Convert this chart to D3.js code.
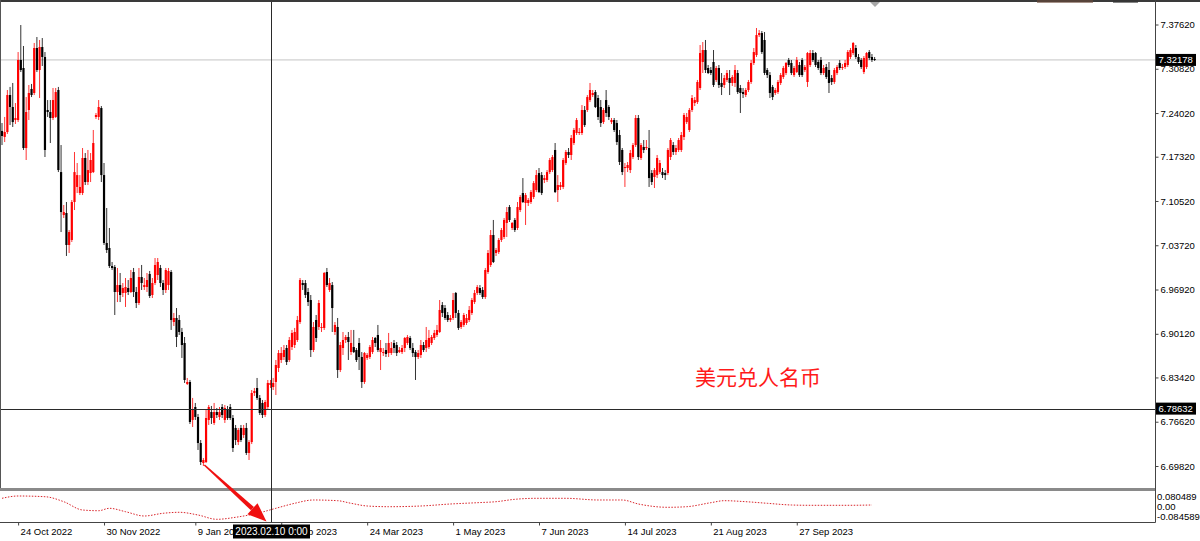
<!DOCTYPE html>
<html><head><meta charset="utf-8">
<script src="https://cdn.jsdelivr.net/npm/d3@7"></script>
<style>html,body{margin:0;padding:0;background:#fff;overflow:hidden}text{font-family:"Liberation Sans",Arial,sans-serif}</style>
</head><body>
<svg id="c" width="1200" height="541"></svg>
<script>
// ---------- DATA (USD/CNH daily bars, Sun–Fri sessions, first bar 2022-10-17) ----------
const firstBarDate = "2022-10-17";
const open = [
7.2127,7.2035,7.2111,7.2679,7.2495,7.2295,7.2295,7.3217,7.3094,7.1865,
7.2449,7.2772,7.2710,7.3401,7.3063,7.3416,7.3263,7.2449,7.2418,7.2326,
7.2342,7.2756,7.1496,7.0836,7.0867,7.0376,7.0453,7.1036,7.1267,7.1174,
7.1174,7.1712,7.1343,7.1481,7.1496,7.2342,7.2342,7.2479,7.1450,7.0407,
7.0330,7.0053,7.0038,6.9654,6.9761,6.9639,6.9639,6.9715,6.9654,6.9961,
6.9654,6.9485,6.9884,6.9731,6.9731,6.9931,6.9608,6.9792,6.9915,7.0023,
6.9792,6.9685,6.9761,6.9961,6.9193,6.9255,6.9224,6.9040,6.8871,6.8242,
6.8272,6.7689,6.7888,6.7735,6.7335,6.7028,6.7043,6.7689,6.7811,6.7643,
6.7811,6.7735,6.7888,6.7689,6.7842,6.7888,6.7719,6.7566,6.7350,6.7566,
6.7458,6.7566,6.7182,6.7350,6.8103,6.8180,6.8027,6.7950,6.7765,6.7888,
6.8226,6.8195,6.8272,6.8487,6.8610,6.8656,6.8794,6.8610,6.8809,6.8840,
6.8917,6.9193,6.9792,6.9792,6.9654,6.9531,6.8763,6.9224,6.9117,6.9102,
6.9102,6.9961,6.9685,6.9761,6.9040,6.9117,6.8456,6.8794,6.8917,6.8963,
6.8732,6.8809,6.8763,6.8871,6.8656,6.8272,6.8641,6.8656,6.8732,6.8948,
6.8994,6.8732,6.8717,6.8763,6.8717,6.8717,6.8871,6.8840,6.8732,6.8732,
6.8794,6.8871,6.8948,6.8794,6.8732,6.8656,6.8687,6.8840,6.8794,6.8809,
6.8871,6.8948,6.8994,6.9040,6.9454,6.9408,6.9301,6.9224,6.9255,6.9639,
6.9332,6.9117,6.9148,6.9178,6.9224,6.9332,6.9500,6.9639,6.9715,6.9685,
6.9577,6.9961,7.0069,7.0529,7.0253,7.0268,7.0453,7.0499,7.0714,7.0959,
7.0637,7.0760,7.0637,7.0913,7.1174,7.1021,7.1021,7.1036,7.1113,7.1220,
7.1481,7.1450,7.1374,7.1374,7.1496,7.1527,7.1835,7.1220,7.1267,7.1267,
7.1635,7.1804,7.1758,7.1942,7.2096,7.2096,7.2096,7.2449,7.2449,7.2602,
7.2679,7.2725,7.2633,7.2495,7.2264,7.2602,7.2495,7.2264,7.2295,7.2249,
7.2065,7.1835,7.1558,7.1558,7.1527,7.1727,7.1911,7.2326,7.1712,7.1881,
7.1865,7.1865,7.1481,7.1420,7.1450,7.1496,7.1496,7.1481,7.1481,7.1727,
7.1911,7.1804,7.1835,7.1835,7.2035,7.2264,7.2142,7.2449,7.2556,7.2571,
7.2787,7.3186,7.3370,7.3094,7.3063,7.3186,7.2910,7.3094,7.2864,7.2833,
7.2910,7.2940,7.2864,7.2864,7.3017,7.2787,7.2725,7.2679,7.2756,7.2879,
7.3171,7.3293,7.3600,7.3631,7.3524,7.3063,7.2986,7.2803,7.2710,7.2725,
7.2864,7.2956,7.3017,7.3217,7.3171,7.2986,7.3032,7.3140,7.3217,7.3063,
7.2879,7.3140,7.3324,7.3324,7.3186,7.3217,7.3017,7.3109,7.3063,7.2940,
7.2879,7.3017,7.3171,7.3094,7.3109,7.3140,7.3263,7.3324,7.3401,7.3263,
7.3217,7.3032,7.3109,7.3339,7.3263,7.3232];
const high = [
7.2249,7.2342,7.2756,7.2803,7.2864,7.2556,7.3339,7.3754,7.3432,7.2648,
7.2833,7.2849,7.3478,7.3570,7.3524,7.3554,7.3339,7.2602,7.2602,7.2787,
7.2787,7.2803,7.1911,7.0990,7.1036,7.0606,7.1067,7.1804,7.1635,7.1450,
7.1865,7.1788,7.1835,7.1788,7.2142,7.2403,7.2602,7.2510,7.1635,7.0944,
7.0637,7.0115,7.0069,7.0023,6.9946,6.9792,6.9869,6.9838,6.9992,7.0023,
6.9731,7.0023,7.0069,6.9869,6.9946,6.9977,6.9869,7.0176,7.0176,7.0069,
6.9838,7.0023,7.0023,6.9992,6.9332,6.9408,6.9301,6.9102,6.8963,6.8334,
6.8303,6.8027,6.7950,6.7781,6.7381,6.7105,6.7842,6.7919,6.7904,6.7950,
6.7873,6.7888,6.7934,6.7919,6.7904,6.7934,6.7765,6.7612,6.7566,6.7612,
6.7612,6.7643,6.7381,6.8149,6.8180,6.8334,6.8072,6.7996,6.7996,6.8303,
6.8303,6.8334,6.8610,6.8763,6.8809,6.8840,6.8840,6.8963,6.9071,6.9102,
6.9286,6.9869,6.9838,6.9838,6.9715,6.9608,6.9193,6.9301,6.9531,6.9178,
6.9961,7.0023,6.9869,6.9807,6.9193,6.9255,6.8886,6.9040,6.8994,6.9040,
6.9071,6.9071,6.8794,6.8948,6.8732,6.8732,6.8717,6.8840,6.8963,6.8963,
6.9148,6.8917,6.8794,6.8871,6.9025,6.8886,6.8917,6.8886,6.8809,6.8840,
6.8963,6.8994,6.8979,6.8871,6.8763,6.8763,6.8917,6.8886,6.9117,6.9071,
6.8994,6.9071,6.9148,6.9531,6.9500,6.9454,6.9347,6.9301,6.9639,6.9654,
6.9378,6.9224,6.9332,6.9316,6.9439,6.9562,6.9685,6.9761,6.9761,6.9731,
7.0023,7.0299,7.0606,7.0760,7.0330,7.0483,7.0637,7.0790,7.0959,7.0990,
7.0729,7.0790,7.1036,7.1143,7.1404,7.1174,7.1097,7.1220,7.1358,7.1527,
7.1558,7.1496,7.1450,7.1527,7.1712,7.1758,7.1942,7.1450,7.1343,7.1712,
7.1835,7.1865,7.2065,7.2173,7.2326,7.2173,7.2525,7.2510,7.2679,7.2864,
7.2756,7.2756,7.2679,7.2602,7.2479,7.2756,7.2525,7.2326,7.2326,7.2295,
7.2142,7.1865,7.1635,7.1650,7.1835,7.1942,7.2372,7.2372,7.1942,7.1988,
7.1988,7.2142,7.1527,7.1558,7.1758,7.1681,7.1558,7.1527,7.1865,7.2019,
7.1957,7.1911,7.2019,7.2111,7.2403,7.2403,7.2479,7.2679,7.2648,7.2910,
7.3447,7.3493,7.3524,7.3140,7.3109,7.3370,7.3125,7.3140,7.3017,7.2986,
7.3063,7.3063,7.2986,7.3140,7.3063,7.2833,7.2787,7.2787,7.2910,7.3217,
7.3401,7.3708,7.3677,7.3662,7.3647,7.3094,7.3032,7.2833,7.2787,7.2910,
7.3017,7.3125,7.3186,7.3248,7.3217,7.3125,7.3263,7.3186,7.3248,7.3140,
7.3339,7.3370,7.3370,7.3339,7.3217,7.3263,7.3140,7.3156,7.3186,7.2986,
7.3094,7.3140,7.3217,7.3156,7.3217,7.3370,7.3401,7.3493,7.3447,7.3309,
7.3248,7.3278,7.3339,7.3370,7.3309,7.3263];
const low = [
7.1911,7.1957,7.2081,7.2218,7.2188,7.2234,7.2264,7.3032,7.1835,7.1681,
7.2295,7.2648,7.2679,7.3032,7.2633,7.3125,7.1727,7.2342,7.1942,7.2295,
7.2326,7.1496,7.0575,7.0790,7.0207,7.0253,7.0422,7.0913,7.1174,7.1143,
7.1143,7.1297,7.1297,7.1343,7.1481,7.2311,7.2295,7.1343,7.0376,7.0253,
7.0023,6.9992,6.9301,6.9500,6.9500,6.9577,6.9424,6.9608,6.9639,6.9577,
6.9408,6.9454,6.9685,6.9685,6.9654,6.9562,6.9562,6.9761,6.9838,6.9731,
6.9608,6.9639,6.9685,6.9071,6.9132,6.8809,6.8994,6.8641,6.8257,6.8226,
6.7627,6.7581,6.7689,6.7228,6.6997,6.6982,6.7028,6.7612,6.7627,6.7612,
6.7719,6.7689,6.7719,6.7643,6.7689,6.7689,6.7197,6.7304,6.7304,6.7350,
6.7412,6.7151,6.7074,6.7319,6.8057,6.7996,6.7765,6.7719,6.7735,6.7858,
6.8180,6.8149,6.8072,6.8425,6.8564,6.8610,6.8533,6.8579,6.8763,6.8794,
6.8886,6.9163,6.9685,6.9562,6.9439,6.8656,6.8732,6.8886,6.9071,6.9040,
6.9071,6.9731,6.9654,6.9040,6.8994,6.8334,6.8425,6.8687,6.8871,6.8610,
6.8687,6.8717,6.8579,6.8456,6.8180,6.8242,6.8610,6.8625,6.8702,6.8809,
6.8732,6.8456,6.8671,6.8656,6.8656,6.8687,6.8717,6.8671,6.8717,6.8702,
6.8732,6.8840,6.8763,6.8656,6.8303,6.8625,6.8641,6.8732,6.8732,6.8779,
6.8840,6.8917,6.8963,6.9025,6.9270,6.9224,6.9193,6.9193,6.9224,6.9255,
6.9071,6.9086,6.9117,6.9148,6.9193,6.9301,6.9470,6.9608,6.9608,6.9547,
6.9547,6.9931,7.0038,7.0099,7.0207,7.0238,7.0422,7.0468,7.0499,7.0729,
7.0606,7.0575,7.0606,7.0882,7.1021,7.0683,7.0975,7.1006,7.1082,7.1189,
7.1174,7.1143,7.1327,7.1343,7.1466,7.1496,7.1174,7.1036,7.1220,7.1236,
7.1604,7.1712,7.1681,7.1911,7.2065,7.2065,7.2065,7.2188,7.2418,7.2571,
7.2648,7.2479,7.2295,7.2188,7.2234,7.2342,7.2295,7.2234,7.2111,7.1911,
7.1604,7.1450,7.1267,7.1496,7.1481,7.1696,7.1881,7.1681,7.1681,7.1788,
7.1835,7.1267,7.1297,7.1251,7.1404,7.1466,7.1404,7.1374,7.1450,7.1681,
7.1758,7.1758,7.1804,7.1804,7.1988,7.2234,7.2111,7.2418,7.2510,7.2541,
7.2756,7.3017,7.3017,7.3001,7.2986,7.2802,7.2879,7.2787,7.2679,7.2787,
7.2879,7.2679,7.2818,7.2803,7.2695,7.2403,7.2633,7.2648,7.2725,7.2849,
7.3140,7.3263,7.3570,7.3309,7.2986,7.2940,7.2633,7.2602,7.2679,7.2695,
7.2833,7.2925,7.2986,7.3109,7.2986,7.2956,7.3017,7.2956,7.2956,7.3032,
7.2803,7.3109,7.3186,7.3109,7.3063,7.2986,7.2986,7.2925,7.2710,7.2833,
7.2849,7.2986,7.3063,7.3063,7.3079,7.3109,7.3232,7.3293,7.3232,7.3156,
7.3079,7.3001,7.3079,7.3217,7.3186,7.3202];
const close = [
7.2050,7.2111,7.2679,7.2495,7.2264,7.2326,7.3217,7.3063,7.1865,7.2418,
7.2710,7.2679,7.3401,7.3063,7.3416,7.3263,7.1835,7.2418,7.2326,7.2602,
7.2725,7.1527,7.0882,7.0882,7.0376,7.0575,7.1036,7.1496,7.1450,7.1267,
7.1712,7.1343,7.1527,7.1681,7.1942,7.2372,7.2495,7.1450,7.0407,7.0299,
7.0053,7.0023,6.9654,6.9761,6.9608,6.9715,6.9731,6.9654,6.9869,6.9654,
6.9485,6.9884,6.9792,6.9761,6.9838,6.9593,6.9792,7.0069,7.0115,6.9792,
6.9685,6.9992,6.9977,6.9224,6.9255,6.8963,6.9040,6.8840,6.8303,6.8272,
6.7658,6.7842,6.7735,6.7335,6.7043,6.7074,6.7719,6.7888,6.7719,6.7811,
6.7765,6.7811,6.7765,6.7873,6.7719,6.7719,6.7258,6.7381,6.7535,6.7381,
6.7566,6.7182,6.7350,6.8103,6.8134,6.8027,6.7796,6.7765,6.7965,6.8257,
6.8257,6.8257,6.8533,6.8717,6.8717,6.8763,6.8579,6.8917,6.9025,6.9040,
6.9224,6.9838,6.9761,6.9608,6.9500,6.8763,6.9117,6.8948,6.9485,6.9117,
6.9946,6.9761,6.9792,6.9408,6.9148,6.8456,6.8840,6.8917,6.8963,6.8886,
6.8871,6.8732,6.8610,6.8656,6.8272,6.8717,6.8687,6.8809,6.8917,6.8871,
6.8763,6.8794,6.8732,6.8702,6.8871,6.8794,6.8794,6.8717,6.8763,6.8794,
6.8948,6.8963,6.8794,6.8717,6.8656,6.8717,6.8840,6.8763,6.8917,6.8948,
6.8963,6.9025,6.9071,6.9378,6.9332,6.9255,6.9224,6.9255,6.9531,6.9332,
6.9102,6.9193,6.9301,6.9255,6.9378,6.9531,6.9639,6.9731,6.9639,6.9577,
6.9992,7.0253,7.0529,7.0115,7.0299,7.0453,7.0606,7.0760,7.0882,7.0760,
7.0714,7.0606,7.0959,7.1113,7.1036,7.1143,7.1067,7.1189,7.1327,7.1450,
7.1189,7.1174,7.1404,7.1496,7.1681,7.1727,7.1189,7.1297,7.1297,7.1681,
7.1804,7.1758,7.2019,7.2142,7.2295,7.2111,7.2449,7.2218,7.2648,7.2756,
7.2710,7.2495,7.2342,7.2249,7.2449,7.2403,7.2342,7.2295,7.2142,7.1957,
7.1650,7.1496,7.1573,7.1604,7.1788,7.1911,7.2326,7.1727,7.1911,7.1835,
7.1881,7.1404,7.1343,7.1527,7.1712,7.1635,7.1450,7.1450,7.1835,7.1988,
7.1804,7.1865,7.1988,7.2065,7.2372,7.2342,7.2449,7.2633,7.2602,7.2879,
7.3324,7.3370,7.3063,7.3017,7.3017,7.2833,7.3094,7.2833,7.2803,7.2940,
7.3017,7.2864,7.2956,7.3063,7.2725,7.2710,7.2695,7.2756,7.2879,7.3171,
7.3339,7.3600,7.3631,7.3339,7.3017,7.2986,7.2710,7.2648,7.2756,7.2879,
7.2986,7.3094,7.3171,7.3140,7.3017,7.3094,7.3217,7.2986,7.2986,7.3109,
7.3324,7.3324,7.3217,7.3140,7.3094,7.3017,7.3094,7.2956,7.2864,7.2879,
7.3063,7.3109,7.3094,7.3109,7.3171,7.3339,7.3370,7.3478,7.3263,7.3186,
7.3109,7.3248,7.3324,7.3248,7.3217,7.32178];

const yTicks = [7.37620,7.30820,7.24020,7.17320,7.10520,7.03720,6.96920,6.90120,6.83420,6.76620,6.69820];
const xTickDates  = ["2022-10-24","2022-11-30","2023-01-09","2023-02-15","2023-03-24","2023-05-01","2023-06-07","2023-07-14","2023-08-21","2023-09-27"];
const xTickLabels = ["24 Oct 2022","30 Nov 2022","9 Jan 2023","15 Feb 2023","24 Mar 2023","1 May 2023","7 Jun 2023","14 Jul 2023","21 Aug 2023","27 Sep 2023"];

// oscillator sub-window (sampled bar index -> value)
const indBar = [0,6,16,23,30,36,40,46,53,60,66,73,80,87,96,102,109,116,125,130,136,144,156,167,177,184,191,199,210,222,231,237,248,255,264,269,277,285,294,301,315,324];
const indVal = [0.0446,0.0577,0.0537,0.0253,-0.0220,-0.0260,-0.0123,-0.0316,-0.0561,-0.0407,-0.0350,-0.0504,-0.0749,-0.0635,-0.0373,-0.0123,0.0162,0.0350,0.0310,0.0162,0.0008,-0.0032,0.0008,0.0122,0.0196,0.0253,0.0389,0.0446,0.0446,0.0350,0.0350,0.0122,-0.0066,-0.0032,0.0196,0.0310,0.0253,0.0162,0.0065,0.0048,0.0048,0.0065];
const indMax = 0.080489, indMin = -0.084589;
const indLabels = ["0.080489","0.00","-0.084589"];

const currentPrice = 7.32178;
const crossPrice = 6.78632;
const crossDate = "2023-02-10";
const crossDateLabel = "2023.02.10 0:00";
const lowBar = 75;
const title = "美元兑人名币";

// ---------- LAYOUT ----------
const W = 1200, H = 541;
const axisX = 1155.5, mainBottom = 488, panelTop = 491, axisY = 522.5;
const FS = 9.5;
const UP = "#ff0000", DOWN = "#000000";

const svg = d3.select("#c");
svg.append("rect").attr("width", W).attr("height", H).attr("fill", "#fff");

// bar dates (Sunday–Friday sessions)
const fmt = d3.utcFormat("%Y-%m-%d");
const dates = [];
for (let t = Date.UTC(2022, 9, 17); dates.length < close.length; t += 86400000) {
  const dd = new Date(t);
  if (dd.getUTCDay() !== 6) dates.push(fmt(dd));
}

const x = d3.scalePoint().domain(dates).range([2, 2 + (dates.length - 1) * 2.685]);
const y = d3.scaleLinear().domain([6.6982, 7.3762]).range([466, 24.5]);
const yi = d3.scaleLinear().domain([indMin, indMax]).range([521, 492]);

const defs = svg.append("defs");
defs.append("clipPath").attr("id", "mainClip").append("rect").attr("x", 0).attr("y", 0).attr("width", axisX).attr("height", mainBottom);
defs.append("clipPath").attr("id", "panelClip").append("rect").attr("x", 0).attr("y", panelTop).attr("width", axisX).attr("height", axisY - panelTop);

// current price line
svg.append("line").attr("x1", 0).attr("x2", axisX).attr("y1", y(currentPrice)).attr("y2", y(currentPrice))
  .attr("stroke", "#c4c4c4").attr("stroke-width", 1);

// candles
const bars = dates.map((d, i) => ({ d, o: open[i], h: high[i], l: low[i], c: close[i] }));
const g = svg.append("g").attr("clip-path", "url(#mainClip)");
const cg = g.selectAll("g.c").data(bars).join("g").attr("class", "c");
cg.append("line")
  .attr("x1", b => x(b.d)).attr("x2", b => x(b.d))
  .attr("y1", b => y(b.h)).attr("y2", b => y(b.l))
  .attr("stroke", b => b.c >= b.o ? UP : DOWN).attr("stroke-opacity", 0.8).attr("stroke-width", 1);
cg.append("rect")
  .attr("x", b => x(b.d) - 1.1).attr("width", 2.2)
  .attr("y", b => Math.min(y(b.o), y(b.c)))
  .attr("height", b => Math.max(1, Math.abs(y(b.o) - y(b.c))))
  .attr("fill", b => b.c >= b.o ? UP : DOWN);

// title text
svg.append("text").attr("x", 695).attr("y", 385).text(title)
  .style("font-family", '"Noto Sans CJK SC","Noto Sans CJK JP",sans-serif')
  .attr("font-size", 21).attr("fill", "#ff1a1a");

// separator
svg.append("rect").attr("x", 0).attr("y", mainBottom).attr("width", axisX).attr("height", 3).attr("fill", "#8a8a8a");

// oscillator line
const line = d3.line().x(p => x(dates[p[0]])).y(p => yi(p[1])).curve(d3.curveMonotoneX);
svg.append("path").attr("clip-path", "url(#panelClip)")
  .datum(indBar.map((b, i) => [b, indVal[i]]))
  .attr("d", line).attr("fill", "none").attr("stroke", "#d8252b").attr("stroke-width", 1)
  .attr("stroke-dasharray", "1.5 1.5");

// panel labels
const indLabelVals = [indMax, 0, indMin];
const indDy = ["0.85em", "0.42em", "-0.1em"];
svg.selectAll("text.il").data(indLabels).join("text").attr("class", "il")
  .attr("x", axisX + 1.5).attr("y", (d, i) => yi(indLabelVals[i])).attr("dy", (d, i) => indDy[i])
  .attr("font-size", FS).attr("fill", "#000").text(d => d);

// crosshair
const cx = Math.round(x(crossDate)) + 0.5;
const cy = Math.round(y(crossPrice)) + 0.5;
svg.append("line").attr("x1", cx).attr("x2", cx).attr("y1", 2).attr("y2", axisY).attr("stroke", "#2a2a2a").attr("stroke-width", 1);
svg.append("line").attr("x1", 0).attr("x2", axisX).attr("y1", cy).attr("y2", cy).attr("stroke", "#2a2a2a").attr("stroke-width", 1);

// frame
svg.append("rect").attr("x", 0).attr("y", 0).attr("width", W).attr("height", 2).attr("fill", "#3a3a3a");
svg.append("rect").attr("x", 1037).attr("y", 0).attr("width", 56).attr("height", 3).attr("fill", "#6b4a3a").attr("opacity", 0.6);
svg.append("rect").attr("x", 1113).attr("y", 0).attr("width", 25).attr("height", 3).attr("fill", "#333").attr("opacity", 0.6);
svg.append("path").attr("d", `M870,2 L880,2 L875,7 Z`).attr("fill", "#a8a8a8");
svg.append("line").attr("x1", 0.5).attr("x2", 0.5).attr("y1", 0).attr("y2", mainBottom).attr("stroke", "#555");
svg.append("line").attr("x1", axisX).attr("x2", axisX).attr("y1", 0).attr("y2", axisY).attr("stroke", "#444");
svg.append("line").attr("x1", 0).attr("x2", axisX).attr("y1", axisY).attr("y2", axisY).attr("stroke", "#444");

// y axis
const yAxis = d3.axisRight(y).tickValues(yTicks).tickFormat(d3.format(".5f")).tickSize(3).tickPadding(2);
const ya = svg.append("g").attr("transform", `translate(${axisX},0)`).call(yAxis);
ya.select(".domain").remove();
ya.selectAll("line").attr("stroke", "#444");
ya.selectAll("text").attr("font-size", FS).attr("fill", "#000").style("font-family", '"Liberation Sans",Arial,sans-serif');

// x axis
const xAxis = d3.axisBottom(x).tickValues(xTickDates).tickFormat((d, i) => xTickLabels[i]).tickSize(3);
const xa = svg.append("g").attr("transform", `translate(0,${axisY})`).call(xAxis);
xa.select(".domain").remove();
xa.selectAll("line").attr("stroke", "#444");
xa.selectAll("text").attr("text-anchor", "start").attr("x", 2).attr("y", 12.5).attr("dy", 0)
  .attr("font-size", FS).attr("fill", "#000").style("font-family", '"Liberation Sans",Arial,sans-serif');

// price tags on axis
function priceTag(v) {
  const yy = y(v);
  svg.append("rect").attr("x", axisX + 0.5).attr("y", yy - 6).attr("width", 40).attr("height", 12).attr("fill", "#000");
  svg.append("text").attr("x", axisX + 3).attr("y", yy).attr("dy", "0.36em").attr("font-size", FS).attr("fill", "#fff").text(d3.format(".5f")(v));
}
priceTag(currentPrice);
priceTag(crossPrice);

// time tag (covers the axis labels beneath it, as in the terminal)
svg.append("rect").attr("x", cx - 38.5).attr("y", 524.5).attr("width", 77).attr("height", 14).attr("fill", "#000");
svg.append("text").attr("x", cx).attr("y", 531.5).attr("dy", "0.36em").attr("text-anchor", "middle")
  .attr("font-size", 10).attr("fill", "#fff").text(crossDateLabel);

// arrow from the low candle to the time tag
const sx = x(dates[lowBar]) + 1, sy = y(low[lowBar]) - 1;
const tx = cx - 5, ty = axisY - 1;
const dx = tx - sx, dy = ty - sy, L = Math.hypot(dx, dy);
const ux = dx / L, uy = dy / L, nx = -uy, ny = ux;
const hl = 19, hw = 7.5;
const bx = tx - ux * hl, by = ty - uy * hl;
svg.append("path").attr("d",
  `M${sx + nx * 0.8},${sy + ny * 0.8} L${bx + nx * 2.2},${by + ny * 2.2} L${bx - nx * 2.2},${by - ny * 2.2} L${sx - nx * 0.8},${sy - ny * 0.8} Z`)
  .attr("fill", "#f01010");
svg.append("path").attr("d",
  `M${tx},${ty} L${bx + nx * hw},${by + ny * hw} L${bx - nx * hw},${by - ny * hw} Z`)
  .attr("fill", "#f01010");
</script>
</body></html>
